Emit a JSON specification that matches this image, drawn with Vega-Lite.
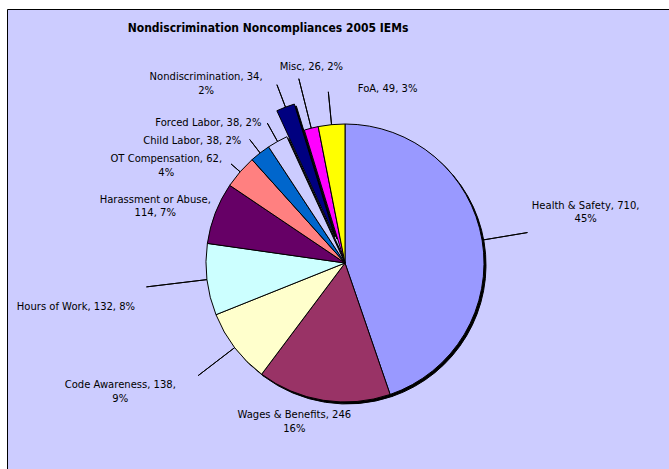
{
  "$schema": "https://vega.github.io/schema/vega-lite/v6.json",
  "width": 676,
  "height": 508,
  "autosize": "none",
  "padding": {"left": 7, "top": 9, "right": 0, "bottom": 0},
  "background": "#ffffff",
  "view": {"fill": "#CCCCFF", "stroke": "#000000", "strokeWidth": 1},
  "title": {
    "text": "Nondiscrimination Noncompliances 2005 IEMs",
    "font": "DejaVu Sans Condensed",
    "fontSize": 12,
    "fontWeight": "bold",
    "color": "#000000",
    "anchor": "middle",
    "dx": -77,
    "offset": -69
  },
  "config": {
    "view": {"fill": "#CCCCFF", "stroke": "#000000", "strokeWidth": 1},
    "text": {"font": "DejaVu Sans", "fontSize": 10, "color": "#000000"}
  },
  "data": {
    "values": [
      {"category": "Health & Safety", "count": 710, "pct": "45%", "label": "Health & Safety, 710,\n45%"},
      {"category": "Wages & Benefits", "count": 246, "pct": "16%", "label": "Wages & Benefits, 246\n16%"},
      {"category": "Code Awareness", "count": 138, "pct": "9%", "label": "Code Awareness, 138,\n9%"},
      {"category": "Hours of Work", "count": 132, "pct": "8%", "label": "Hours of Work, 132, 8%"},
      {"category": "Harassment or Abuse", "count": 114, "pct": "7%", "label": "Harassment or Abuse,\n114, 7%"},
      {"category": "OT Compensation", "count": 62, "pct": "4%", "label": "OT Compensation, 62,\n4%"},
      {"category": "Child Labor", "count": 38, "pct": "2%", "label": "Child Labor, 38, 2%"},
      {"category": "Forced Labor", "count": 38, "pct": "2%", "label": "Forced Labor, 38, 2%"},
      {"category": "Nondiscrimination", "count": 34, "pct": "2%", "label": "Nondiscrimination, 34,\n2%"},
      {"category": "Misc", "count": 26, "pct": "2%", "label": "Misc, 26, 2%"},
      {"category": "FoA", "count": 49, "pct": "3%", "label": "FoA, 49, 3%"}
    ]
  },
  "transform": [{"window": [{"op": "row_number", "as": "idx"}]}],
  "encoding": {
    "theta": {"field": "count", "type": "quantitative", "stack": true},
    "order": {"field": "idx", "type": "quantitative"}
  },
  "layer": [
    {
      "mark": {"type": "arc", "radius": 139, "xOffset": 2, "yOffset": 2, "stroke": "#000000", "strokeWidth": 1},
      "encoding": {
        "fill": {"condition": {"test": "datum.category === 'Nondiscrimination'", "value": "transparent"}, "value": "#000000"},
        "strokeOpacity": {"condition": {"test": "datum.category === 'Nondiscrimination'", "value": 0}, "value": 1}
      }
    },
    {
      "mark": {"type": "arc", "radius": 139, "stroke": "#000000", "strokeWidth": 1},
      "encoding": {
        "fill": {
          "field": "category",
          "type": "nominal",
          "legend": null,
          "scale": {
            "domain": ["Health & Safety", "Wages & Benefits", "Code Awareness", "Hours of Work", "Harassment or Abuse", "OT Compensation", "Child Labor", "Forced Labor", "Nondiscrimination", "Misc", "FoA"],
            "range": ["#9999FF", "#993366", "#FFFFCC", "#CCFFFF", "#660066", "#FF8080", "#0066CC", "#CCCCFF", "#000080", "#FF00FF", "#FFFF00"]
          }
        },
        "fillOpacity": {"condition": {"test": "datum.category === 'Nondiscrimination'", "value": 0}, "value": 1},
        "strokeOpacity": {"condition": {"test": "datum.category === 'Nondiscrimination'", "value": 0}, "value": 1}
      }
    },
    {
      "mark": {"type": "arc", "radius": 139, "xOffset": -8, "yOffset": -24, "stroke": "#000000", "strokeWidth": 1},
      "encoding": {
        "fill": {"condition": {"test": "datum.category === 'Nondiscrimination'", "value": "#000000"}, "value": "transparent"},
        "strokeOpacity": {"condition": {"test": "datum.category === 'Nondiscrimination'", "value": 1}, "value": 0}
      }
    },
    {
      "mark": {"type": "arc", "radius": 139, "xOffset": -10, "yOffset": -26, "stroke": "#000000", "strokeWidth": 1},
      "encoding": {
        "fill": {"condition": {"test": "datum.category === 'Nondiscrimination'", "value": "#000080"}, "value": "transparent"},
        "strokeOpacity": {"condition": {"test": "datum.category === 'Nondiscrimination'", "value": 1}, "value": 0}
      }
    },
    {
      "mark": {"type": "arc", "innerRadius": 139, "outerRadius": 151, "padAngle": 3, "stroke": "#000000", "strokeWidth": 1, "fillOpacity": 0},
      "encoding": {"strokeOpacity": {"condition": {"test": "datum.category === 'OT Compensation'", "value": 1}, "value": 0}}
    },
    {
      "mark": {"type": "arc", "innerRadius": 139, "outerRadius": 156, "padAngle": 3, "stroke": "#000000", "strokeWidth": 1, "fillOpacity": 0},
      "encoding": {"strokeOpacity": {"condition": {"test": "datum.category === 'Child Labor'", "value": 1}, "value": 0}}
    },
    {
      "mark": {"type": "arc", "innerRadius": 139, "outerRadius": 160, "padAngle": 3, "stroke": "#000000", "strokeWidth": 1, "fillOpacity": 0},
      "encoding": {"strokeOpacity": {"condition": {"test": "datum.category === 'Forced Labor'", "value": 1}, "value": 0}}
    },
    {
      "mark": {"type": "arc", "innerRadius": 139, "outerRadius": 163, "padAngle": 3, "xOffset": -10, "yOffset": -26, "stroke": "#000000", "strokeWidth": 1, "fillOpacity": 0},
      "encoding": {"strokeOpacity": {"condition": {"test": "datum.category === 'Nondiscrimination'", "value": 1}, "value": 0}}
    },
    {
      "mark": {"type": "arc", "innerRadius": 139, "outerRadius": 190, "padAngle": 3, "stroke": "#000000", "strokeWidth": 1, "fillOpacity": 0},
      "encoding": {"strokeOpacity": {"condition": {"test": "datum.category === 'Misc'", "value": 1}, "value": 0}}
    },
    {
      "mark": {"type": "arc", "innerRadius": 139, "outerRadius": 172, "padAngle": 3, "stroke": "#000000", "strokeWidth": 1, "fillOpacity": 0},
      "encoding": {"strokeOpacity": {"condition": {"test": "datum.category === 'FoA'", "value": 1}, "value": 0}}
    },
    {
      "mark": {"type": "arc", "innerRadius": 139, "outerRadius": 185, "padAngle": 3, "stroke": "#000000", "strokeWidth": 1, "fillOpacity": 0},
      "encoding": {"strokeOpacity": {"condition": {"test": "datum.category === 'Health & Safety' || datum.category === 'Code Awareness'", "value": 1}, "value": 0}}
    },
    {
      "mark": {"type": "arc", "innerRadius": 139, "outerRadius": 200, "padAngle": 3, "stroke": "#000000", "strokeWidth": 1, "fillOpacity": 0},
      "encoding": {"strokeOpacity": {"condition": {"test": "datum.category === 'Hours of Work'", "value": 1}, "value": 0}}
    },
    {
      "mark": {"type": "text", "radius": 246, "dx": -2, "dy": -17, "lineBreak": "\n", "lineHeight": 13, "align": "center", "baseline": "middle"},
      "encoding": {"text": {"condition": {"test": "datum.category === 'Health & Safety'", "field": "label"}, "value": ""}}
    },
    {
      "mark": {"type": "text", "radius": 165, "dx": -25, "dy": -11, "lineBreak": "\n", "lineHeight": 14, "align": "center", "baseline": "middle"},
      "encoding": {"text": {"condition": {"test": "datum.category === 'Wages & Benefits'", "field": "label"}, "value": ""}}
    },
    {
      "mark": {"type": "text", "radius": 258, "dx": -20, "dy": -35, "lineBreak": "\n", "lineHeight": 14, "align": "center", "baseline": "middle"},
      "encoding": {"text": {"condition": {"test": "datum.category === 'Code Awareness'", "field": "label"}, "value": ""}}
    },
    {
      "mark": {"type": "text", "radius": 272, "dx": 1, "dy": 12, "lineBreak": "\n", "lineHeight": 13, "align": "center", "baseline": "middle"},
      "encoding": {"text": {"condition": {"test": "datum.category === 'Hours of Work'", "field": "label"}, "value": ""}}
    },
    {
      "mark": {"type": "text", "radius": 199, "dx": -4, "dy": 8, "lineBreak": "\n", "lineHeight": 13, "align": "center", "baseline": "middle"},
      "encoding": {"text": {"condition": {"test": "datum.category === 'Harassment or Abuse'", "field": "label"}, "value": ""}}
    },
    {
      "mark": {"type": "text", "radius": 205, "dx": -24, "dy": 30, "lineBreak": "\n", "lineHeight": 14, "align": "center", "baseline": "middle"},
      "encoding": {"text": {"condition": {"test": "datum.category === 'OT Compensation'", "field": "label"}, "value": ""}}
    },
    {
      "mark": {"type": "text", "radius": 196, "dx": -33, "dy": 33, "lineBreak": "\n", "lineHeight": 13, "align": "center", "baseline": "middle"},
      "encoding": {"text": {"condition": {"test": "datum.category === 'Child Labor'", "field": "label"}, "value": ""}}
    },
    {
      "mark": {"type": "text", "radius": 197, "dx": -41, "dy": 32, "lineBreak": "\n", "lineHeight": 13, "align": "center", "baseline": "middle"},
      "encoding": {"text": {"condition": {"test": "datum.category === 'Forced Labor'", "field": "label"}, "value": ""}}
    },
    {
      "mark": {"type": "text", "radius": 227, "dx": -58, "dy": 26, "lineBreak": "\n", "lineHeight": 14, "align": "center", "baseline": "middle"},
      "encoding": {"text": {"condition": {"test": "datum.category === 'Nondiscrimination'", "field": "label"}, "value": ""}}
    },
    {
      "mark": {"type": "text", "radius": 200, "dx": 15, "dy": -2, "lineBreak": "\n", "lineHeight": 13, "align": "center", "baseline": "middle"},
      "encoding": {"text": {"condition": {"test": "datum.category === 'Misc'", "field": "label"}, "value": ""}}
    },
    {
      "mark": {"type": "text", "radius": 180, "dx": 60, "dy": 5, "lineBreak": "\n", "lineHeight": 13, "align": "center", "baseline": "middle"},
      "encoding": {"text": {"condition": {"test": "datum.category === 'FoA'", "field": "label"}, "value": ""}}
    }
  ]
}
